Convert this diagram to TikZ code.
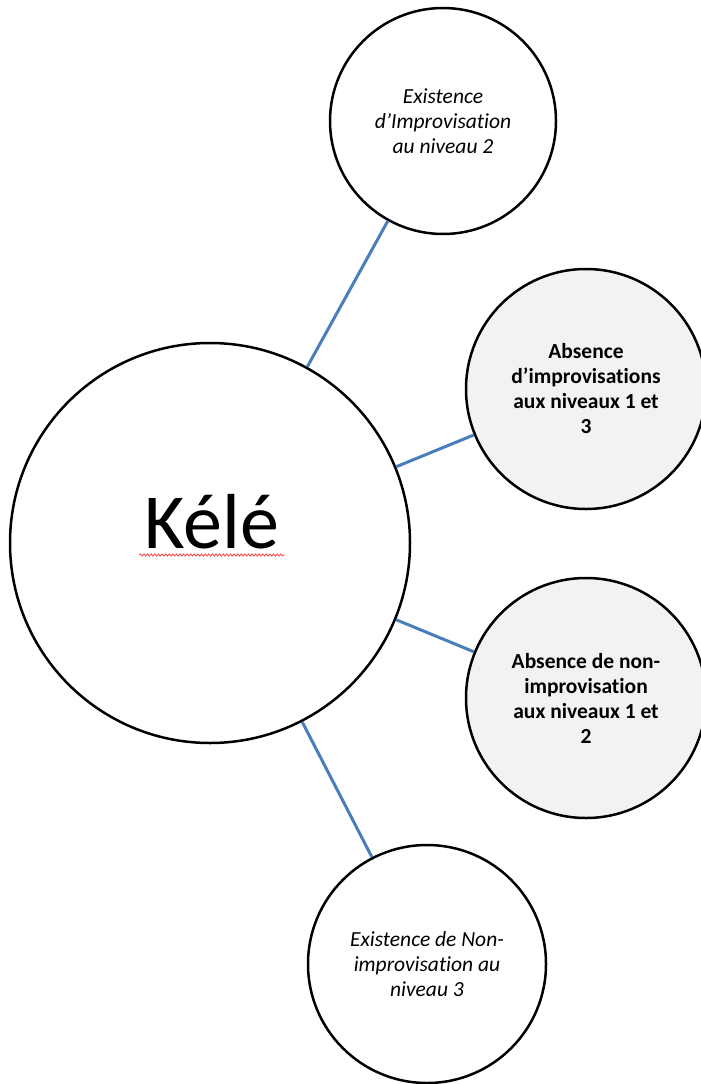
\documentclass[tikz,border=0pt]{standalone}
\usepackage{fontspec}
\setmainfont[Ligatures={NoCommon}]{Carlito}
\usetikzlibrary{decorations.pathmorphing}
\definecolor{linkblue}{HTML}{4A7EBB}
\definecolor{softgray}{HTML}{F2F2F2}
\begin{document}
\begin{tikzpicture}[x=1pt,y=-1pt,
  bubble/.style={circle, draw=black, line width=2.5pt, inner sep=0pt, fill=white, align=center,
    font=\fontsize{21.5}{25}\selectfont},
  shaded/.style={bubble, fill=softgray, font=\fontsize{21.5}{25}\selectfont\bfseries},
  slanted/.style={bubble, font=\fontsize{21.5}{25}\selectfont\itshape},
  conn/.style={draw=linkblue, line width=3pt}]
\useasboundingbox (0,0) rectangle (701,1084);

% central circle and its title
\node[bubble, minimum size=400pt] (kele) at (210,543) {};
\node[anchor=base, inner sep=0pt, font=\fontsize{78}{90}\selectfont] (kt) at (212,548) {Kélé};
\draw[red!75, line width=0.8pt, decorate, decoration={zigzag, segment length=3.6pt, amplitude=1.1pt}]
  ([xshift=-5pt,yshift=-7pt]kt.base west) -- ([xshift=5pt,yshift=-7pt]kt.base east);

% outer circles
\node[slanted, minimum size=226pt] (top) at (443,121) {Existence\\d’Improvisation\\au niveau 2};
\node[shaded, minimum size=240pt] (midA) at (586,389) {Absence\\d’improvisations\\aux niveaux 1 et\\3};
\node[shaded, minimum size=240pt] (midB) at (586,698) {Absence de non-\\improvisation\\aux niveaux 1 et\\2};
\node[slanted, minimum size=238pt] (bot) at (427,964) {Existence de Non-\\improvisation au\\niveau 3};

% spokes
\draw[conn] (kele) -- (top);
\draw[conn] (kele) -- (midA);
\draw[conn] (kele) -- (midB);
\draw[conn] (kele) -- (bot);
\end{tikzpicture}
\end{document}
